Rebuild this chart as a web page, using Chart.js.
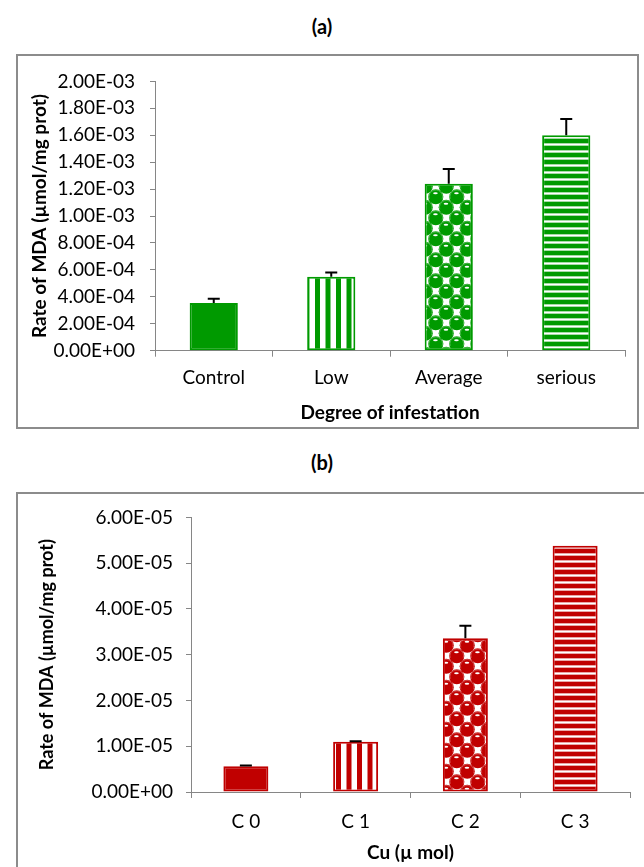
<!DOCTYPE html>
<html>
<head>
<meta charset="utf-8">
<script src="https://cdn.jsdelivr.net/npm/chart.js@4"></script>
<style>
  html, body { margin: 0; padding: 0; background: #fff; }
  body { width: 644px; height: 867px; position: relative; overflow: hidden; font-family: Lato, sans-serif; }
  .panel { position: absolute; left: 0; width: 644px; text-align: center; font-weight: bold; font-size: 20px; line-height: 24px; color: #000; }
  .frame { position: absolute; border: 2px solid #8c8c8c; box-sizing: border-box; }
  canvas { position: absolute; left: 0; }
</style>
</head>
<body>
<div class="panel" style="top:14px">(a)</div>
<div class="frame" style="left:16px; top:54px; width:623px; height:375px"></div>
<canvas id="chartA" width="644" height="373" style="top:55px"></canvas>

<div class="panel" style="top:450px">(b)</div>
<div class="frame" style="left:16px; top:492px; width:640px; height:400px"></div>
<canvas id="chartB" width="644" height="374" style="top:493px"></canvas>

<script>
// Panel (a): MDA rate by degree of infestation
const infestCategories = ['Control', 'Low', 'Average', 'serious'];
const infestValues = [0.000355, 0.00055, 0.00124, 0.0016];
const infestErrors = [0.00003, 0.00003, 0.00011, 0.00012];
const infestTicks = [0, 0.0002, 0.0004, 0.0006, 0.0008, 0.001, 0.0012, 0.0014, 0.0016, 0.0018, 0.002];

// Panel (b): MDA rate by copper concentration
const cuCategories = ['C 0', 'C 1', 'C 2', 'C 3'];
const cuValues = [0.0000056, 0.000011, 0.0000336, 0.0000538];
const cuErrors = [0.0000002, 0.0000001, 0.0000027, 0];
const cuTicks = [0, 0.00001, 0.00002, 0.00003, 0.00004, 0.00005, 0.00006];

const GREEN = '#009a00';
const RED = '#c00000';
const AXIS = '#868686';
const FONT = 'Lato';

// ---- fill patterns ----
function makeTile(w, h, draw) {
  const cv = document.createElement('canvas');
  cv.width = w; cv.height = h;
  const g = cv.getContext('2d');
  g.fillStyle = '#fff';
  g.fillRect(0, 0, w, h);
  draw(g, w, h);
  return cv;
}

function toPattern(tile) {
  return document.createElement('canvas').getContext('2d').createPattern(tile, 'repeat');
}

function verticalStripes(color) {
  return toPattern(makeTile(21, 4, (g) => {
    g.fillStyle = color;
    g.fillRect(0, 0, 5, 4);
    g.fillRect(10.5, 0, 5, 4);
  }));
}

function horizontalStripes(color) {
  return toPattern(makeTile(4, 7, (g) => {
    g.fillStyle = color;
    g.fillRect(0, 0, 4, 4);
    g.globalAlpha = 0.35;
    g.fillRect(0, 4, 4, 1);
    g.fillRect(0, 6, 4, 1);
    g.globalAlpha = 1;
  }));
}

// checkerboard of shaded spheres
function spheres(color) {
  const T = 21, c = T / 2, r = 7.6;
  return toPattern(makeTile(T, T, (g) => {
    const centres = [];
    for (const [bx, by] of [[c / 2, c / 2], [c / 2 + c, c / 2 + c]]) {
      for (const dx of [-T, 0, T]) for (const dy of [-T, 0, T]) centres.push([bx + dx, by + dy]);
    }
    g.fillStyle = color;
    for (const [x, y] of centres) { g.beginPath(); g.arc(x, y, r, 0, Math.PI * 2); g.fill(); }
    g.strokeStyle = 'rgba(255,255,255,0.35)';
    g.lineWidth = 0.8;
    for (const [x, y] of centres) { g.beginPath(); g.arc(x, y, r - 0.8, Math.PI * 0.9, Math.PI * 2.1); g.stroke(); }
    g.fillStyle = '#fff';
    for (const [x, y] of centres) { g.beginPath(); g.ellipse(x - 0.3, y - 3.4, 2.3, 1.0, 0, 0, Math.PI * 2); g.fill(); }
  }));
}

function fillsFor(color) {
  return [color, verticalStripes(color), spheres(color), horizontalStripes(color)];
}

// ---- tick label format like 2.00E-03 ----
function sci(v) {
  if (Math.abs(v) < 1e-15) return '0.00E+00';
  const [m, e] = v.toExponential(2).split('e');
  const n = parseInt(e, 10);
  return m + 'E' + (n < 0 ? '-' : '+') + String(Math.abs(n)).padStart(2, '0');
}

// ---- upper error bars drawn through the value scale ----
const errorBars = {
  id: 'errorBars',
  afterDatasetsDraw(chart, args, opts) {
    const errs = opts.errors || [];
    const meta = chart.getDatasetMeta(0);
    const ys = chart.scales.y;
    const vals = chart.data.datasets[0].data;
    const ctx = chart.ctx;
    ctx.save();
    ctx.strokeStyle = '#000';
    ctx.lineWidth = 2;
    meta.data.forEach((bar, i) => {
      const e = errs[i];
      if (!e) return;
      const yTop = ys.getPixelForValue(vals[i] + e);
      const yBar = ys.getPixelForValue(vals[i]);
      ctx.beginPath();
      ctx.moveTo(bar.x, yBar);
      ctx.lineTo(bar.x, yTop);
      ctx.moveTo(bar.x - 6, yTop);
      ctx.lineTo(bar.x + 6, yTop);
      ctx.stroke();
    });
    ctx.restore();
  }
};

function buildChart(id, cfg) {
  return new Chart(document.getElementById(id), {
    type: 'bar',
    data: {
      labels: cfg.labels,
      datasets: [{
        data: cfg.values,
        backgroundColor: fillsFor(cfg.color),
        borderColor: cfg.color,
        borderWidth: 2,
        borderSkipped: false,
        categoryPercentage: 1,
        barPercentage: 0.41
      }]
    },
    options: {
      responsive: false,
      animation: false,
      layout: { padding: cfg.padding },
      plugins: {
        legend: { display: false },
        tooltip: { enabled: false },
        errorBars: { errors: cfg.errors }
      },
      scales: {
        x: {
          grid: { display: true, drawOnChartArea: false, drawTicks: true, tickLength: 6, color: AXIS, lineWidth: 1 },
          border: { display: true, color: AXIS, width: 1 },
          ticks: { color: '#000', padding: cfg.xTickPad, font: { family: FONT, size: 19 } },
          title: {
            display: true, text: cfg.xTitle, color: '#000',
            font: { family: FONT, size: 19, weight: 'bold' },
            padding: { top: 0, bottom: cfg.xTitlePad }
          },
          afterFit(s) { s.height = cfg.xHeight; }
        },
        y: {
          min: cfg.ticks[0],
          max: cfg.ticks[cfg.ticks.length - 1],
          afterBuildTicks(s) { s.ticks = cfg.ticks.map(v => ({ value: v })); },
          grid: { display: true, drawOnChartArea: false, drawTicks: true, tickLength: 5, color: AXIS, lineWidth: 1 },
          border: { display: true, color: AXIS, width: 1 },
          ticks: { color: '#000', padding: cfg.yTickPad, font: { family: FONT, size: 19 }, callback: (v) => sci(v) },
          title: {
            display: true, text: 'Rate of MDA (µmol/mg prot)', color: '#000',
            font: { family: FONT, size: cfg.yTitleSize, weight: 'bold' },
            padding: { top: cfg.yTitlePad, bottom: 0 }
          },
          afterFit(s) { s.width = cfg.yWidth; }
        }
      }
    },
    plugins: [errorBars]
  });
}

buildChart('chartA', {
  labels: infestCategories, values: infestValues, errors: infestErrors, ticks: infestTicks,
  color: GREEN, xTitle: 'Degree of infestation',
  padding: { top: 21.7, right: 19, bottom: 0, left: 0 },
  yWidth: 155, xHeight: 77.3, xTickPad: 10, xTitlePad: 4,
  yTickPad: 15, yTitleSize: 19, yTitlePad: 28.6
});

buildChart('chartB', {
  labels: cuCategories, values: cuValues, errors: cuErrors, ticks: cuTicks,
  color: RED, xTitle: 'Cu (µ mol)',
  padding: { top: 20, right: 14, bottom: 0, left: 0 },
  yWidth: 191, xHeight: 75, xTickPad: 12.5, xTitlePad: 2.6,
  yTickPad: 13, yTitleSize: 18, yTitlePad: 36.2
});
</script>
</body>
</html>
